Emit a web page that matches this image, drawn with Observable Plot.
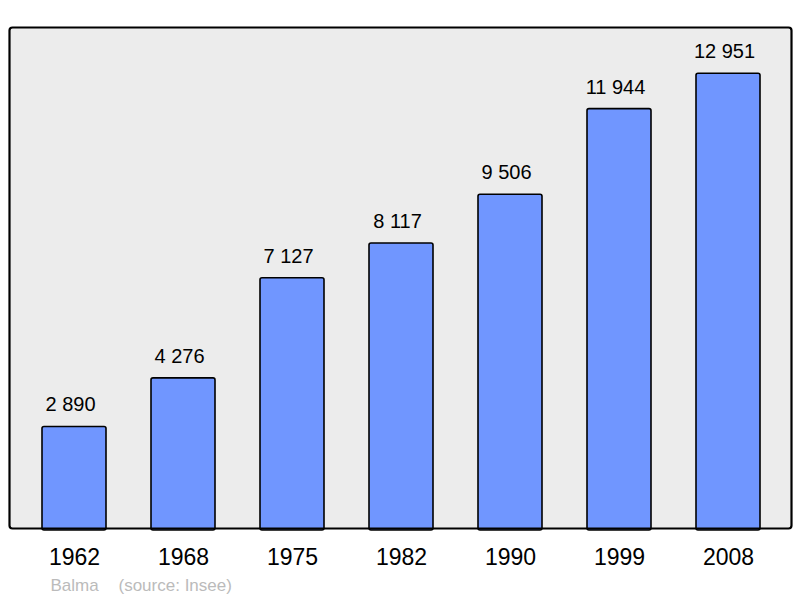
<!DOCTYPE html>
<html>
<head>
<meta charset="utf-8">
<script src="https://cdn.jsdelivr.net/npm/d3@7"></script>
<script src="https://cdn.jsdelivr.net/npm/@observablehq/plot@0.6"></script>
<style>
  html, body { margin: 0; padding: 0; background: #fff; }
  svg { display: block; }
</style>
</head>
<body>
<div id="chart"></div>
<script>
const years = ["1962", "1968", "1975", "1982", "1990", "1999", "2008"];
const population = [2890, 4276, 7127, 8117, 9506, 11944, 12951];
const commune = "Balma";
const source = "(source: Insee)";

const data = years.map((y, i) => ({year: y, value: population[i]}));
const fmt = v => d3.format(",")(v).replace(/,/g, " ");

const chart = Plot.plot({
  width: 800,
  height: 598,
  marginLeft: 9,
  marginRight: 9,
  marginTop: 27,
  marginBottom: 70,
  style: {fontFamily: "'Liberation Sans', Arial, sans-serif", background: "#fff"},
  x: {domain: years, range: [9.3, 793.2], paddingInner: 0.415, paddingOuter: 0.29, label: null},
  y: {domain: [0, 14270], axis: null},
  marks: [
    Plot.frame({fill: "#ececec", stroke: "none", rx: 3}),
    Plot.barY(data, {x: "year", y: "value", fill: "#7096ff", stroke: "#000", strokeWidth: 1.6, rx: 2, insetBottom: -2}),
    Plot.text(data, {x: "year", y: "value", text: d => fmt(d.value), dy: -22, dx: -4, fontSize: 20, fill: "#000"}),
    Plot.frame({stroke: "#000", strokeWidth: 2.2, rx: 3, fill: "none"}),
    Plot.axisX({tickSize: 0, tickPadding: 20, fontSize: 23, fill: "#000"}),
    Plot.text([commune], {x: () => years[0], frameAnchor: "bottom", dy: 62, fontSize: 17, fill: "#bbbbbb", text: d => d}),
    Plot.text([source], {x: () => years[0], frameAnchor: "bottom", dy: 62, dx: 44, textAnchor: "start", fontSize: 17, fill: "#bbbbbb", text: d => d})
  ]
});
document.getElementById("chart").appendChild(chart);
</script>
</body>
</html>
